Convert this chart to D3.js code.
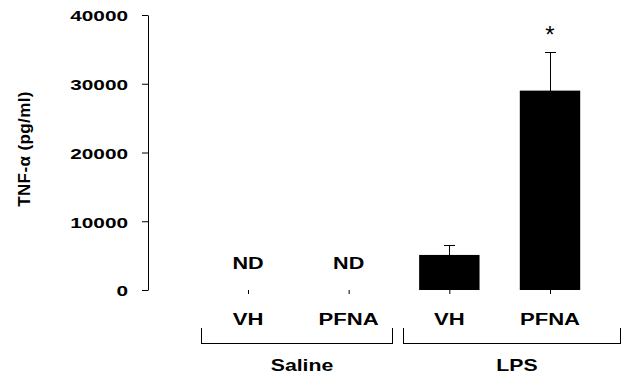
<!DOCTYPE html>
<html>
<head>
<meta charset="utf-8">
<script src="https://cdn.jsdelivr.net/npm/d3@7"></script>
<style>
  body { margin: 0; background: #fff; }
  text { font-family: "Liberation Sans", Arial, sans-serif; fill: #000; }
</style>
</head>
<body>
<div id="chart"></div>
<script>
// data
var treatments = ["VH", "PFNA", "VH", "PFNA"];
var groups = ["Saline", "Saline", "LPS", "LPS"];
var means = [null, null, 5100, 29000];   // null = not detected
var sems = [null, null, 1400, 5600];
var signif = ["", "", "", "*"];
var yTicks = [0, 10000, 20000, 30000, 40000];
var groupNames = ["Saline", "LPS"];

var W = 627, H = 381;
var svg = d3.select("#chart").append("svg").attr("width", W).attr("height", H);

var idx = d3.range(treatments.length);

var y = d3.scaleLinear().domain([0, 40000]).range([290, 15]);
var x = d3.scalePoint().domain(idx).range([248, 550]);
var barW = x.step() * 0.6;

// stretched bold text like the original export
function wide(sel, sx) {
    return sel.attr("font-weight", "bold").attr("transform", function () {
        var t = d3.select(this);
        return "translate(" + t.attr("data-x") + "," + t.attr("data-y") + ") scale(" + sx + ",1)";
    });
}

// y axis
var yAxis = svg.append("g")
    .attr("transform", "translate(148,0)")
    .call(d3.axisLeft(y).tickValues(yTicks).tickSize(6).tickSizeOuter(0).tickFormat(d3.format("d")));
yAxis.attr("font-family", null).attr("font-size", null);
yAxis.selectAll("text")
    .attr("x", 0).attr("y", 0).attr("dy", null)
    .style("font-size", "15.5px")
    .attr("font-weight", "bold")
    .attr("text-anchor", "end")
    .attr("transform", "translate(-20,5.8) scale(1.34,1)");

// category ticks (no baseline)
var xAxis = svg.append("g")
    .attr("transform", "translate(0,290)")
    .call(d3.axisBottom(x).tickSize(4).tickFormat(""));
xAxis.select(".domain").remove();

// bars
var withData = idx.filter(function (i) { return means[i] != null; });
svg.selectAll("rect.bar").data(withData).enter().append("rect")
    .attr("class", "bar")
    .attr("x", function (i) { return x(i) - barW / 2; })
    .attr("y", function (i) { return y(means[i]); })
    .attr("width", barW)
    .attr("height", function (i) { return y(0) - y(means[i]); })
    .attr("fill", "#000");

// upper error bars
var err = svg.selectAll("g.err").data(withData).enter().append("g").attr("class", "err")
    .attr("stroke", "#000").attr("stroke-width", 1).attr("shape-rendering", "crispEdges");
err.append("line")
    .attr("x1", function (i) { return Math.round(x(i)) + 0.5; })
    .attr("x2", function (i) { return Math.round(x(i)) + 0.5; })
    .attr("y1", function (i) { return y(means[i]); })
    .attr("y2", function (i) { return y(means[i] + sems[i]); });
err.append("line")
    .attr("x1", function (i) { return x(i) - 5.5; })
    .attr("x2", function (i) { return x(i) + 5.5; })
    .attr("y1", function (i) { return Math.round(y(means[i] + sems[i])) + 0.5; })
    .attr("y2", function (i) { return Math.round(y(means[i] + sems[i])) + 0.5; });

// significance marks
svg.selectAll("text.sig").data(withData.filter(function (i) { return signif[i]; })).enter().append("text")
    .attr("class", "sig")
    .attr("x", function (i) { return x(i); })
    .attr("y", function (i) { return y(means[i] + sems[i]) - 9.5; })
    .attr("text-anchor", "middle")
    .style("font-size", "24px")
    .text(function (i) { return signif[i]; });

// ND labels
var nd = svg.selectAll("text.nd").data(idx.filter(function (i) { return means[i] == null; })).enter().append("text")
    .attr("class", "nd")
    .attr("data-x", function (i) { return x(i); })
    .attr("data-y", 269)
    .attr("text-anchor", "middle")
    .style("font-size", "17px")
    .text("ND");
wide(nd, 1.27);

// treatment labels
var tl = svg.selectAll("text.treat").data(idx).enter().append("text")
    .attr("class", "treat")
    .attr("data-x", function (i) { return x(i); })
    .attr("data-y", 324.5)
    .attr("text-anchor", "middle")
    .style("font-size", "17px")
    .text(function (i) { return treatments[i]; });
wide(tl, 1.3);

// group brackets
var pad = { Saline: [47, 43], LPS: [46, 70] };
groupNames.forEach(function (g) {
    var members = idx.filter(function (i) { return groups[i] === g; });
    var x0 = Math.round(x(members[0]) - pad[g][0]) + 0.5;
    var x1 = Math.round(x(members[members.length - 1]) + pad[g][1]) + 0.5;
    svg.append("path")
        .attr("d", "M" + x0 + ",328V343.5H" + x1 + "V328")
        .attr("fill", "none").attr("stroke", "#000").attr("stroke-width", 1)
        .attr("shape-rendering", "crispEdges");
    var lab = svg.append("text")
        .attr("data-x", (x0 + x1) / 2 + 5)
        .attr("data-y", 371)
        .attr("text-anchor", "middle")
        .style("font-size", "17px")
        .text(g);
    wide(lab, 1.25);
});

// y label
svg.append("text")
    .attr("transform", "translate(30,149) rotate(-90)")
    .attr("text-anchor", "middle")
    .attr("font-weight", "bold")
    .style("font-size", "17px")
    .style("letter-spacing", "0.4px")
    .text("TNF-α (pg/ml)");
</script>
</body>
</html>
